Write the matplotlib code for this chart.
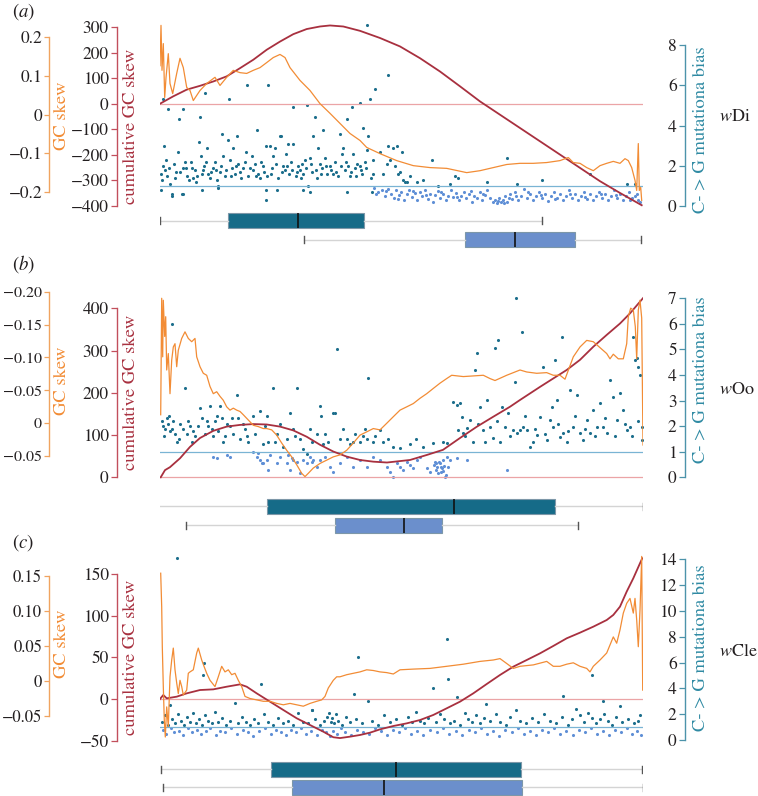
import matplotlib
matplotlib.use('Agg')
import matplotlib.pyplot as plt

plt.rcParams['font.family'] = ['STIXGeneral', 'DejaVu Serif']
plt.rcParams['mathtext.fontset'] = 'stix'

# ---------------- data (x = genome window position, 0..483) ----------------
# Panel (a) wDi
A_GC = [(0,0.126),(1,0.230),(2,0.114),(3.3,0.183),(4.7,0.044),(6,0.095),(8.3,0.157),(10,0.080),
        (12.7,0.054),(16.7,0.106),(20,0.145),(23.3,0.121),(26.7,0.070),(30,0.062),(33.3,0.036),
        (40,0.062),(46.7,0.080),(55,0.096),(60,0.075),(66.7,0.096),(73.3,0.114),(80,0.108),
        (86.7,0.106),(93.3,0.114),(100,0.121),(106.7,0.134),(113.3,0.147),(120,0.155),(125,0.147),
        (130,0.121),(140,0.088),(150,0.062),(160,0.028),(170,0.003),(180,-0.023),(190,-0.049),
        (200,-0.067),(206.7,-0.085),(220,-0.101),(236.7,-0.119),(253.3,-0.132),(270,-0.137),
        (286.7,-0.139),(306.7,-0.150),(320,-0.145),(333.3,-0.137),(346.7,-0.129),(360,-0.126),
        (373.3,-0.126),(386.7,-0.124),(400,-0.119),(408.3,-0.111),(413.3,-0.124),(420,-0.126),
        (426.7,-0.137),(433.3,-0.145),(440,-0.132),(446.7,-0.126),(453.3,-0.121),(460,-0.126),
        (465,-0.114),(468.3,-0.119),(471.7,-0.137),(475,-0.170),(476.7,-0.196),(478.3,-0.075),
        (479.3,-0.196),(480.7,-0.188),(481.7,-0.222)]
A_CUM = [(0,0),(13.3,29),(26.7,55),(40,70),(53.3,87),(66.7,107),(80,139),(93.3,172),(106.7,211),
         (120,243),(133.3,272),(146.7,292),(160,302),(170,306),(183.3,302),(200,285),(220,257),
         (240,224),(260,178),(280,126),(300,68),(320,9),(340,-43),(360,-95),(380,-147),(400,-199),
         (420,-251),(440,-303),(460,-349),(481.7,-397)]
A_DARK = [(3,5.3),(3,2.0),(8,4.8),(4,3.0),(1,1.6),(2,1.3),(10,1.1),(12,0.6),(18,2.7),(23,4.8),
          (19,4.3),(23,1.9),(27,1.5),(32,1.9),(33,1.4),(22,0.6),(40,4.4),(39,3.2),(41,2.5),(42,1.6),
          (48,1.6),(47,2.9),(45,5.6),(53,1.9),(57,1.3),(58,1.0),(62,3.6),(63,2.5),(69,5.3),(68,3.3),
          (73,2.9),(72,1.9),(77,3.5),(78,2.1),(81,1.4),(87,6.0),(86,2.7),(92,2.5),(93,1.8),(97,3.8),
          (98,1.6),(103,2.0),(106,3.0),(108,6.0),(110,3.0),(113,2.5),(115,2.9),(120,3.5),(121,3.5),
          (123,2.0),(126,2.6),(128,3.1),(129,1.6),(133,4.9),(133,3.1),(138,2.0),(142,2.1),(143,1.6),
          (147,5.0),(148,1.0),(150,2.4),(153,3.5),(155,4.4),(158,2.9),(160,2.1),(163,3.8),(167,1.6),
          (170,2.0),(173,1.6),(180,3.6),(182,2.6),(183,2.9),(187,4.3),(188,2.0),(192,4.9),(193,2.6),
          (197,2.1),(200,5.1),(200,2.0),(203,3.9),(207,2.8),(208,3.5),(210,5.3),(213,2.3),(213,1.6),
          (215,5.8),(207,9.0),(1,0.8),(12,0.5),(23,0.6),(42,0.8),(58,0.9),(106,0.8),(106,0.3),
          (117,0.8),(143,0.8),(150,0.7),(187,0.7),(212,0.7),
          (5,1.8),(7,1.5),(14,2.1),(16,1.7),(25,2.2),(29,1.3),(35,1.8),(37,1.5),(44,2.0),(50,1.4),
          (55,2.2),(60,1.7),(65,1.5),(70,2.3),(75,1.6),(83,1.9),(88,1.5),(95,2.1),(100,1.4),(104,1.7),
          (112,1.9),(118,1.4),(125,1.8),(131,2.2),(136,1.5),(140,1.8),(145,2.3),(152,1.7),(157,1.4),
          (162,1.9),(165,2.4),(175,2.2),(178,1.5),(185,1.8),(190,1.5),(195,1.9),(202,1.6),(205,2.2),
          (6,2.3),(9,1.9),(15,1.4),(20,1.7),(26,1.9),(31,2.2),(36,1.2),(43,1.8),(46,2.2),(51,1.7),
          (56,1.8),(61,2.0),(66,1.8),(71,1.5),(76,2.0),(80,1.7),(85,2.2),(90,1.9),(96,1.5),(101,2.2),
          (107,1.5),(111,1.6),(116,2.1),(122,1.7),(127,2.0),(132,1.8),(137,1.7),(141,1.4),(146,1.9),
          (151,2.1),(156,1.8),(161,1.6),(166,2.0),(171,1.8),(176,1.7),(181,2.0),(186,2.2),(191,1.7),
          (196,1.5),(201,1.8),(206,1.9),(211,1.4),
          (220,2.7),(223,1.6),(227,2.1),(228,3.0),(230,2.3),(233,2.9),(235,2.0),(237,3.0),(238,1.6),
          (240,1.7),(242,2.7),(243,1.3),(245,1.2),(247,1.2),(250,1.5),(257,1.2),(263,1.3),(272,2.3),
          (278,1.0),(290,1.1),(295,1.5),(298,1.4),(327,1.2),(347,2.4),(357,1.1),(382,1.3),(430,1.6),
          (467,1.1),(475,1.1),(228,6.5)]
A_LIGHT = [(214,0.9),(218,0.7),(222,0.8),(225,0.5),(228,0.85),(231,0.6),(234,0.4),(236,0.8),
           (239,0.55),(241,0.7),(244,0.3),(247,0.6),(249,0.8),(252,0.45),(255,0.65),(257,0.3),
           (260,0.7),(262,0.5),(265,0.8),(268,0.35),(270,0.6),(273,0.2),(275,0.55),(278,0.75),
           (280,0.4),(283,0.6),(286,0.3),(288,0.5),(291,0.8),(293,0.45),(296,0.65),(299,0.3),
           (301,0.5),(304,0.7),(306,0.4),(309,0.6),(312,0.2),(314,0.5),(317,0.4),(320,0.7),
           (322,0.3),(325,0.55),(327,0.8),(330,0.4),(333,0.2),(335,0.3),(337,0.15),(339,0.4),
           (341,0.2),(343,0.3),(345,0.5),(347,0.2),(350,0.6),(352,0.35),(355,0.7),(358,0.3),
           (361,0.5),(364,0.85),(367,0.4),(370,0.6),(373,0.3),(376,0.5),(379,0.7),(382,0.4),
           (385,0.6),(388,0.25),(391,0.5),(394,0.7),(397,0.4),(400,0.6),(403,0.3),(406,0.5),
           (409,0.8),(412,0.4),(415,0.6),(418,0.3),(421,0.5),(424,0.7),(427,0.35),(430,0.6),
           (433,0.3),(436,0.5),(439,0.7),(442,0.4),(445,0.6),(448,0.3),(451,0.5),(454,0.8),
           (457,0.4),(460,0.6),(463,0.3),(466,0.5),(469,0.7),(472,0.4),(475,0.5),(478,0.3),(480,0.2),
           (216,0.6),(226,0.75),(238,0.35),(253,0.75),(266,0.55),(281,0.7),(297,0.45),(311,0.75),
           (323,0.6),(338,0.25),(344,0.15),(349,0.4),(356,0.5),(368,0.7),(381,0.55),(395,0.35),
           (410,0.6),(425,0.45),(441,0.6),(456,0.55),(470,0.3),(477,0.6)]
A_BOX1 = dict(whislo=0, q1=68, med=138, q3=204, whishi=382)
A_BOX2 = dict(whislo=144, q1=305, med=355, q3=415, whishi=481)

# Panel (b) wOo
B_GC = [(0.7,-0.013),(1.7,-0.190),(2.7,-0.101),(3.3,-0.187),(4.7,-0.132),(5.7,-0.162),(6.7,-0.081),
        (8.3,-0.106),(10,-0.045),(11.7,-0.096),(13.3,-0.116),(15,-0.121),(16.7,-0.086),(18.3,-0.111),
        (21.7,-0.129),(25,-0.139),(28.3,-0.129),(31.7,-0.124),(35,-0.129),(36.7,-0.101),(40,-0.086),
        (43.3,-0.076),(46.7,-0.073),(50,-0.056),(53.3,-0.045),(56.7,-0.048),(60,-0.041),(63.3,-0.035),
        (66.7,-0.025),(70,-0.020),(73.3,-0.023),(76.7,-0.020),(80,-0.018),(83.3,-0.013),(88.3,-0.005),
        (93.3,0.003),(98.3,0.005),(103.3,0.008),(106.7,0.008),(111.7,0.010),(116.7,0.018),
        (121.7,0.030),(126.7,0.041),(131.7,0.051),(136.7,0.063),(141.7,0.076),(145,0.081),
        (148.3,0.076),(153.3,0.068),(160,0.061),(166.7,0.056),(173.3,0.051),(180,0.048),
        (186.7,0.041),(193.3,0.030),(200,0.018),(206.7,0.013),(213.3,0.008),(220,0.010),
        (226.7,0.000),(233.3,-0.010),(240,-0.020),(246.7,-0.025),(253.3,-0.030),(260,-0.038),
        (266.7,-0.045),(273.3,-0.053),(280,-0.061),(286.7,-0.068),(291.7,-0.073),(303.3,-0.071),
        (313.3,-0.072),(323.3,-0.073),(330,-0.068),(335,-0.065),(346.7,-0.073),(360,-0.081),
        (366.7,-0.078),(376.7,-0.076),(386.7,-0.077),(393.3,-0.073),(400,-0.073),(405,-0.067),
        (413.3,-0.101),(420,-0.116),(426.7,-0.126),(433.3,-0.124),(440,-0.115),(446.7,-0.106),
        (450,-0.098),(453.3,-0.105),(458.3,-0.098),(463.3,-0.098),(466.7,-0.121),(468.3,-0.162),
        (470.7,-0.175),(473.3,-0.172),(475.3,-0.147),(476.7,-0.098),(478.3,-0.172),(480,-0.187),
        (481.7,-0.160),(483,0.033)]
B_CUM = [(0.7,0),(5,17),(10,24),(20,45),(30,72),(40,93),(53.3,110),(66.7,120),(80,124),(93.3,126),
         (106.7,125),(120,120),(133.3,111),(146.7,96),(160,77),(173.3,61),(186.7,49),(200,41),
         (213.3,37),(227,35),(250,41),(267,53),(283,65),(300,93),(317,120),(333,143),(350,167),
         (360,183),(380,214),(393.3,234),(406.7,254),(420,278),(433.3,309),(446.7,337),(460,364),
         (470,388),(483,424)]
B_DARK = [(12,6.0),(2,2.2),(3,2.0),(5,1.9),(7,2.3),(8,2.1),(10,1.8),(12,1.9),(13,2.2),(17,1.4),
          (20,2.1),(23,1.9),(25,3.5),(27,1.7),(30,2.0),(32,1.4),(35,1.6),(40,2.7),(42,2.3),(47,2.2),
          (48,2.0),(50,2.8),(52,1.9),(53,1.6),(55,2.2),(57,2.4),(60,2.8),(62,2.3),(63,1.4),(67,2.1),
          (70,2.0),(73,1.7),(77,3.2),(78,2.3),(80,1.5),(83,2.1),(87,1.6),(88,1.4),(93,2.4),(100,2.6),
          (103,1.3),(107,2.4),(108,1.4),(113,3.5),(117,1.7),(123,1.2),(127,1.5),(130,2.5),(133,1.9),
          (137,3.5),(140,1.5),(143,1.1),(147,0.9),(152,1.4),(157,1.7),(160,2.8),(161,2.4),(163,1.3),
          (168,1.4),(173,2.5),(175,2.5),(177,5.0),(183,1.9),(187,1.5),(190,1.3),(193,1.4),(200,1.4),
          (203,1.6),(207,1.5),(208,3.9),(213,1.4),(220,1.85),(223,1.39),(233,1.2),(240,1.13),
          (4,1.6),(9,2.4),(15,1.7),(19,1.5),(28,2.2),(33,1.8),(38,2.0),(45,1.7),(58,1.8),(65,1.6),
          (72,2.3),(85,1.9),(95,1.7),(105,2.0),(115,1.4),(120,2.1),(135,1.6),(150,1.9),(165,1.7),
          (180,1.5),(195,1.7),(205,1.9),(215,1.6),(228,1.5),(250,1.3),(256,1.5),
          (263,1.2),(273,1.33),(283,1.39),(287,1.33),(293,2.96),(297,2.83),(300,2.89),(298,1.85),
          (302,2.37),(303,1.72),(307,1.91),(310,2.24),(313,1.39),(315,4.2),(317,4.85),(320,2.76),
          (323,1.85),(327,3.02),(330,1.98),(333,1.52),(335,5.04),(338,5.37),(340,1.39),(342,2.76),
          (345,1.98),(348,2.5),(353,1.85),(355,3.74),(357,1.72),(360,1.85),(362,5.7),(363,1.98),
          (367,1.85),(370,1.2),(373,1.39),(377,1.65),(380,2.37),(383,4.33),(387,1.46),(390,2.24),
          (392,2.76),(393,1.98),(395,4.59),(397,3.02),(400,1.59),(402,5.5),(403,1.72),(407,1.39),
          (410,3.41),(413,1.98),(417,3.22),(420,1.72),(423,1.46),(427,2.24),(430,1.72),(433,2.63),
          (437,1.98),(440,2.89),(443,1.98),(447,1.72),(450,3.8),(453,3.15),(457,2.24),(460,3.28),
          (463,2.63),(467,1.85),(470,1.98),(473,5.5),(475,4.59),(477,4.65),(478,4.33),(480,4.0),
          (482,1.46),(482,1.98),(356,7.0),
          (305,1.6),(318,2.1),(325,1.4),(337,2.2),(350,1.6),(365,2.4),(375,1.9),(385,1.7),(398,2.1),
          (408,1.8),(415,2.4),(425,1.9),(435,1.6),(445,2.3),(455,1.6),(465,2.1),(472,1.6),(478,2.2)]
B_LIGHT = [(53,0.81),(57,0.74),(70,0.81),(93,1.0),(97,0.81),(100,0.68),(103,0.55),(107,0.68),
           (108,0.29),(117,0.55),(120,0.81),(127,0.55),(130,0.29),(133,0.68),(140,0.16),(147,0.55),
           (150,0.81),(153,0.68),(157,0.42),(160,0.68),(165,0.81),(170,0.42),(173,0.22),(180,0.55),
           (187,0.81),(193,0.42),(200,0.68),(207,0.42),(213,0.81),(67,0.87),(98,0.94),(102,0.55),
           (110,0.87),(128,0.87),(132,0.74),(137,0.61),(143,0.68),(152,0.61),(220,0.68),(227,0.42),
           (230,0.22),(233,0.03),(237,0.55),(240,0.42),(243,0.29),(247,0.61),(250,0.48),(253,0.35),
           (257,0.68),(260,0.81),(267,0.35),(270,0.22),(275,0.61),(277,0.42),(278,0.16),(280,0.55),
           (282,0.35),(283,0.68),(285,0.03),(287,0.81),(288,0.42),(290,0.68),(297,0.74),(307,0.68),
           (347,0.29),(274,0.5),(276,0.3),(279,0.6),(281,0.2),(284,0.45),(286,0.1),(276,0.55),
           (281,0.4),(283,0.25)]
B_BOX1 = dict(whislo=-2, q1=107, med=294, q3=395, whishi=483)
B_BOX2 = dict(whislo=26, q1=175, med=244, q3=282, whishi=418)

# Panel (c) wCle
C_GC = [(0.7,0.154),(1.7,0.106),(2.3,0.049),(3.3,-0.008),(4.3,-0.056),(5.3,-0.080),(6.7,-0.037),
        (8.3,-0.065),(10,0.006),(11.7,0.030),(13.3,0.047),(15,0.016),(16.7,-0.003),(18.3,-0.018),
        (20,0.001),(21.7,-0.008),(23.3,-0.020),(26.7,-0.013),(28.3,0.011),(30,0.013),(33.3,0.016),
        (36.7,0.040),(38.3,0.047),(41.7,0.030),(44,0.021),(46.7,0.011),(50,0.001),(55,-0.008),
        (58.3,0.006),(61.7,0.021),(65,0.013),(68.3,0.016),(71.7,0.009),(75,0.011),(78.3,0.001),
        (81.7,-0.008),(85,-0.022),(90,-0.025),(96.7,-0.027),(103.3,-0.029),(110,-0.029),
        (116.7,-0.032),(123.3,-0.034),(130,-0.032),(136.7,-0.034),(143.3,-0.036),(150,-0.032),
        (156.7,-0.029),(161.7,-0.027),(165,-0.022),(168.3,-0.010),(173.3,0.001),(176.7,0.006),
        (180,0.006),(186.7,0.009),(193.3,0.011),(200,0.013),(206.7,0.016),(213.3,0.015),(220,0.013),
        (226.7,0.012),(233.3,0.010),(240,0.016),(253.3,0.017),(270,0.018),(286.7,0.021),
        (303.3,0.024),(320,0.028),(333.3,0.030),(340,0.032),(346.7,0.025),(353.3,0.018),
        (360,0.021),(373.3,0.023),(386.7,0.028),(393.3,0.021),(400,0.021),(406.7,0.024),
        (413.3,0.026),(420,0.021),(426.7,0.018),(430,0.013),(433.3,0.021),(440,0.030),(446.7,0.040),
        (453.3,0.063),(456.7,0.054),(460,0.073),(463.3,0.097),(466.7,0.111),(470,0.118),
        (473.3,0.097),(475,0.118),(476.7,0.087),(478.3,0.049),(480,0.101),(481.7,0.178),(482.7,-0.013)]
C_CUM = [(0,0),(3.3,4.8),(6.7,0.8),(16.7,2.8),(26.7,6.8),(40,10.8),(53.3,11.6),(66.7,14.8),
         (80,17.6),(86.7,14.8),(96.7,6.8),(110,-3.2),(123.3,-13.2),(136.7,-23.2),(150,-31.3),
         (163.3,-39.3),(173.3,-46.0),(180,-47.0),(190,-45.3),(200,-43.3),(210,-40.5),(220,-36.5),
         (233.3,-32.5),(246.7,-29.3),(260,-25.3),(273.3,-19.2),(286.7,-11.2),(300,-3.2),
         (313.3,6.8),(326.7,18.0),(340,28.9),(353.3,38.9),(366.7,46.9),(380,54.9),(393.3,63.8),
         (406.7,73.0),(420,79.8),(433.3,87.0),(446.7,95.0),(453.3,101.1),(460,111.1),(466.7,129.2),
         (473.3,145.2),(480,163.3),(482.3,169.3)]
C_DARK = [(2,1.4),(5,1.9),(8,1.2),(10,2.7),(12,1.6),(15,1.3),(18,2.0),(21,1.5),(24,1.2),(27,1.8),
          (30,1.4),(33,2.1),(36,1.3),(39,1.6),(42,1.2),(45,1.9),(48,1.5),(52,1.3),(55,2.2),(58,1.4),
          (62,1.7),(66,1.2),(70,1.5),(75,2.9),(78,1.3),(82,1.8),(86,1.4),(90,1.2),(94,1.6),(98,1.3),
          (104,2.0),(108,1.4),(113,1.2),(118,1.7),(123,1.3),(128,1.5),(133,1.2),(138,2.1),(143,1.4),
          (148,1.3),(152,2.3),(155,1.6),(160,1.2),(164,1.5),(167,1.8),(169,2.1),(171,1.4),(172,1.7),
          (174,1.3),(176,2.0),(178,1.5),(182,1.2),(186,1.8),(190,1.4),(196,1.6),(202,1.3),(208,3.0),
          (212,1.5),(218,1.2),(224,1.9),(230,1.4),(236,1.6),(242,1.2),(248,1.8),(252,1.4),(256,2.2),
          (260,1.5),(264,1.3),(268,1.7),(276,1.4),(280,2.0),(284,1.6),(290,1.3),(294,1.5),(300,1.2),
          (305,2.1),(308,1.6),(312,1.4),(316,1.9),(320,1.3),(324,1.7),(330,1.5),(336,2.0),(340,1.4),
          (346,1.2),(350,1.8),(356,2.3),(360,1.5),(366,1.3),(372,1.7),(378,1.4),(384,2.0),(390,1.5),
          (396,1.3),(402,1.8),(408,1.2),(412,1.6),(416,2.4),(420,1.9),(424,1.4),(428,2.1),(432,1.7),
          (436,1.3),(440,1.6),(444,2.0),(448,1.5),(452,1.2),(456,1.8),(462,1.4),(468,1.6),(474,1.3),
          (478,1.5),(480,1.9),
          (17,14.1),(44,6.0),(43,5.0),(101,4.3),(198,6.4),(194,3.6),(287,7.8),(288,4.7),(273,4.0),
          (297,3.3),(326,2.8),(403,3.4),(432,5.0),(443,3.0),(460,2.6),(152,2.3)]
C_LIGHT = [(3,0.8),(6,0.5),(11,0.9),(14,0.6),(19,0.7),(23,0.4),(28,0.9),(32,0.6),(37,0.8),(41,0.5),
           (46,0.7),(50,0.9),(56,0.4),(60,0.7),(65,0.6),(71,0.9),(77,0.5),(83,0.8),(88,0.6),(93,0.3),
           (99,0.7),(105,0.9),(111,0.5),(116,0.8),(121,0.6),(126,0.4),(131,0.8),(136,0.6),(141,0.9),
           (146,0.5),(151,0.7),(157,0.4),(162,0.8),(166,0.6),(170,0.3),(173,0.7),(177,0.5),(181,0.9),
           (185,0.6),(191,0.4),(197,0.8),(203,0.6),(209,0.5),(215,0.9),(221,0.7),(227,0.4),(233,0.8),
           (239,0.6),(245,0.9),(251,0.5),(257,0.7),(263,0.4),(270,0.8),(277,0.6),(283,0.9),(289,0.5),
           (296,0.7),(302,0.4),(309,0.8),(315,0.6),(321,0.9),(327,0.5),(333,0.7),(339,0.3),(345,0.8),
           (352,0.6),(358,0.9),(364,0.5),(370,0.7),(376,0.4),(382,0.8),(388,0.6),(394,0.9),(400,0.5),
           (406,0.7),(413,0.4),(419,0.8),(425,0.6),(431,0.9),(437,0.5),(443,0.7),(449,0.4),(455,0.8),
           (461,0.6),(467,0.9),(472,0.5),(477,0.7),(481,0.4)]
C_BOX1 = dict(whislo=1, q1=111, med=236, q3=361, whishi=482)
C_BOX2 = dict(whislo=3, q1=132, med=224, q3=362, whishi=483)

# tick labels
A_GC_TICKS = [-0.2, -0.1, 0, 0.1, 0.2]
A_GC_LABELS = ['\u22120.2', '\u22120.1', '0', '0.1', '0.2']
A_CUM_TICKS = [-400, -300, -200, -100, 0, 100, 200, 300]
A_BIAS_TICKS = [0, 2, 4, 6, 8]
B_GC_TICKS = [-0.20, -0.15, -0.10, -0.05, 0, 0.05]
B_GC_LABELS = ['\u22120.20', '\u22120.15', '\u22120.10', '\u22120.05', '0', '\u22120.05']
B_CUM_TICKS = [0, 100, 200, 300, 400]
B_BIAS_TICKS = [0, 1, 2, 3, 4, 5, 6, 7]
C_GC_TICKS = [-0.05, 0, 0.05, 0.10, 0.15]
C_GC_LABELS = ['\u22120.05', '0', '0.05', '0.10', '0.15']
C_CUM_TICKS = [-50, 0, 50, 100, 150]
C_BIAS_TICKS = [0, 2, 4, 6, 8, 10, 12, 14]

# ---------------- styling ----------------
ORANGE = '#F28C35'
ORANGE_AX = '#F0A460'
RED = '#A8303F'
RED_AX = '#C24F5C'
PINK = '#EBA4A6'
BLUE_LINE = '#7AB4D4'
TEAL = '#1C6E8C'
LIGHT = '#5F8FD6'
BIAS_AX = '#4C93AA'
BIAS_LBL = '#2F8AA3'
BOX1 = '#166B88'
BOX2 = '#6B8FCC'
TXT = '#231F20'

W, H = 758, 796
fig = plt.figure(figsize=(W / 100, H / 100), dpi=100)
X0, X1 = 160, 643
XMAX = 483
TICK_FS = 12.5
LABEL_FS = 13.3


def rect(px0, px1, py0, py1):
    return [px0 / W, 1 - py1 / H, (px1 - px0) / W, (py1 - py0) / H]


def lim(v1, p1, v2, p2, top, bot):
    s = (v2 - v1) / (p2 - p1)
    return v1 + (bot - p1) * s, v1 + (top - p1) * s


def unzip(pts):
    return [p[0] for p in pts], [p[1] for p in pts]


def fmt(v):
    s = ('%g' % v)
    return s.replace('-', '\u2212')


def style_axis(ax, pos, color, ticks, labels, bounds, ylim, fs=TICK_FS, pad=2, length=4):
    ax.set_ylim(*ylim)
    ax.yaxis.set_ticks_position('left')
    for k, s in ax.spines.items():
        s.set_visible(False)
    sp = ax.spines['left']
    sp.set_visible(True)
    sp.set_position(('axes', pos))
    sp.set_color(color)
    sp.set_linewidth(1.0)
    sp.set_bounds(*bounds)
    ax.set_yticks(ticks)
    ax.set_yticklabels(labels if labels else [fmt(t) for t in ticks])
    ax.tick_params(axis='y', direction='out', length=length, width=0.9, color=color,
                   labelsize=fs, labelcolor=TXT, pad=pad)
    ax.set_xticks([])


def draw_panel(top, bot, gc, cum, dark, light, gcref, cumref, biasref,
               gct, gcl, gcb, cumt, cumb, biast, biasb, name, name_y, lbl_y,
               box1, box2, box_top, box_bot, box_pos, gc_fs=TICK_FS):
    axb = fig.add_axes(rect(X0, X1, top, bot))
    axc = axb.twinx()
    axg = axb.twinx()
    for a in (axb, axc, axg):
        a.set_xlim(0, XMAX)
        a.patch.set_visible(False)
    style_axis(axb, (685 - X0) / (X1 - X0), BIAS_AX, biast, None, biasb,
               lim(*biasref, top, bot))
    style_axis(axc, (117 - X0) / (X1 - X0), RED_AX, cumt, None, cumb,
               lim(*cumref, top, bot))
    style_axis(axg, (49 - X0) / (X1 - X0), ORANGE_AX, gct, gcl, gcb,
               lim(*gcref, top, bot), fs=gc_fs, pad=1.5, length=3.5)

    dx, dy = unzip(dark)
    lx, ly = unzip(light)
    axb.scatter(lx, ly, s=5, color=LIGHT, linewidths=0, zorder=2)
    axb.scatter(dx, dy, s=5, color=TEAL, linewidths=0, zorder=2)
    axb.plot([0, XMAX], [1, 1], color=BLUE_LINE, lw=0.9, zorder=3)
    axc.plot([0, XMAX], [0, 0], color=PINK, lw=0.9, zorder=1)
    cx, cy = unzip(cum)
    axc.plot(cx, cy, color=RED, lw=1.3, zorder=3)
    gx, gy = unzip(gc)
    axg.plot(gx, gy, color=ORANGE, lw=0.9, zorder=3)

    # labels
    fig.text(62 / W, 1 - lbl_y[0] / H, 'GC skew', rotation=90, ha='center', va='center',
             fontsize=LABEL_FS, color=ORANGE)
    fig.text(131 / W, 1 - lbl_y[1] / H, 'cumulative GC skew', rotation=90, ha='center',
             va='center', fontsize=LABEL_FS, color=RED)
    fig.text(701 / W, 1 - lbl_y[2] / H, 'C- > G mutationa bias', rotation=90, ha='center',
             va='center', fontsize=LABEL_FS, color=BIAS_LBL)
    fig.text(719 / W, 1 - name_y / H, name, ha='left', va='center', fontsize=13, color=TXT)

    # boxplots
    axx = fig.add_axes(rect(X0, X1, box_top, box_bot))
    axx.set_xlim(0, XMAX)
    axx.set_ylim(box_bot, box_top)
    axx.axis('off')
    stats = []
    for b in (box1, box2):
        d = dict(b)
        d['fliers'] = []
        stats.append(d)
    res = axx.bxp(stats, positions=box_pos, widths=15, orientation='horizontal',
                  patch_artist=True, showfliers=False, capwidths=7,
                  whiskerprops=dict(color='#D4D4D4', lw=1.0),
                  capprops=dict(color='#555555', lw=1.0),
                  medianprops=dict(color='#111111', lw=1.2),
                  boxprops=dict(lw=0.8))
    for patch, fc in zip(res['boxes'], (BOX1, BOX2)):
        patch.set_facecolor(fc)
        patch.set_edgecolor('#7d97a8')


draw_panel(18, 208, A_GC, A_CUM, A_DARK, A_LIGHT,
           (0.2, 37, -0.2, 192), (300, 27, -400, 206), (8, 45, 0, 206),
           A_GC_TICKS, A_GC_LABELS, (-0.2, 0.2), A_CUM_TICKS, (-400, 300), A_BIAS_TICKS, (0, 8),
           '$\\mathit{w}$Di', 117, (116, 126, 130),
           A_BOX1, A_BOX2, 208, 252, [221, 240])

draw_panel(288, 480, B_GC, B_CUM, B_DARK, B_LIGHT,
           (-0.20, 291.7, 0, 423.3), (400, 308.3, 0, 477.3), (7, 298.3, 0, 477.3),
           B_GC_TICKS, B_GC_LABELS, (-0.20, 0.05), B_CUM_TICKS, (0, 400), B_BIAS_TICKS, (0, 7),
           '$\\mathit{w}$Oo', 390, (381, 392, 380),
           B_BOX1, B_BOX2, 490, 540, [506.5, 525.5], gc_fs=11.5)

draw_panel(553, 742, C_GC, C_CUM, C_DARK, C_LIGHT,
           (0.15, 576, 0, 681), (150, 574.3, 0, 699), (14, 559.3, 0, 740),
           C_GC_TICKS, C_GC_LABELS, (-0.05, 0.15), C_CUM_TICKS, (-50, 150), C_BIAS_TICKS, (0, 14),
           '$\\mathit{w}$Cle', 652, (644, 657, 648),
           C_BOX1, C_BOX2, 750, 796, [769, 787], gc_fs=12)

for lab, y in (('a', 12), ('b', 264), ('c', 543)):
    fig.text(12 / W, 1 - y / H, '($\\mathit{%s}$)' % lab, ha='left', va='center',
             fontsize=13.5, color=TXT)

fig.savefig('out.png', dpi=100)
